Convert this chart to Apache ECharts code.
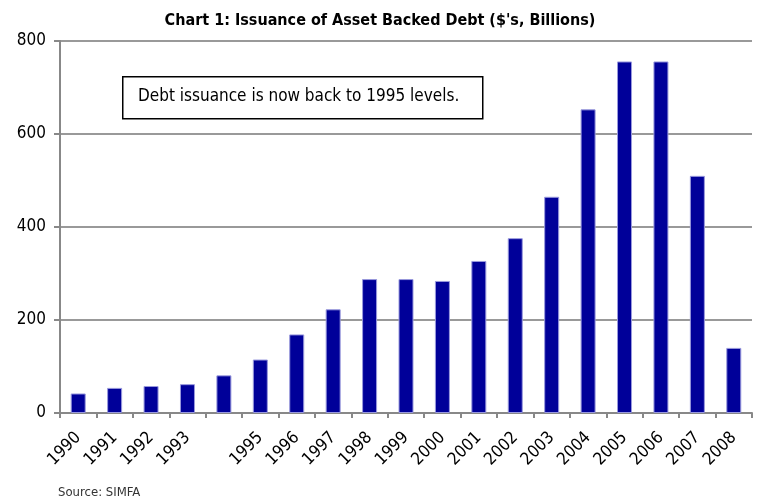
<!DOCTYPE html>
<html>
<head>
<meta charset="utf-8">
<script src="https://cdn.jsdelivr.net/npm/echarts@6/dist/echarts.min.js"></script>
<style>
  html, body { margin: 0; padding: 0; background: #fff; }
  #chart { width: 760px; height: 504px; }
</style>
</head>
<body>
<div id="chart"></div>
<script>
const years = ['1990', '1991', '1992', '1993', '1994', '1995', '1996', '1997', '1998', '1999',
  '2000', '2001', '2002', '2003', '2004', '2005', '2006', '2007', '2008'];
const issuance = [42, 54, 58, 62, 81, 115, 169, 223, 288, 288,
  284, 327, 376, 465, 653, 756, 756, 510, 140];
const hiddenYears = ['1994'];
const yTicks = [0, 200, 400, 600, 800];

const font = "'DejaVu Sans Condensed', 'Liberation Sans Narrow', 'Liberation Sans', sans-serif";

const myChart = echarts.init(document.getElementById('chart'));
myChart.setOption({
  animation: false,
  title: {
    text: "Chart 1: Issuance of Asset Backed Debt ($'s, Billions)",
    left: 'center',
    top: 8,
    textStyle: { fontFamily: font, fontSize: 16, fontWeight: 'bold', color: '#000' }
  },
  grid: { left: 60, right: 8, top: 41, bottom: 91 },
  xAxis: {
    type: 'category',
    data: years,
    axisLine: { lineStyle: { color: '#888', width: 2 } },
    axisTick: { show: true, length: 5, lineStyle: { color: '#888', width: 2 } },
    axisLabel: {
      rotate: 45,
      interval: 0,
      margin: 22,
      fontFamily: font,
      fontSize: 17,
      color: '#000',
      formatter: (v) => hiddenYears.includes(v) ? '' : v
    }
  },
  yAxis: {
    type: 'value',
    min: yTicks[0],
    max: yTicks[yTicks.length - 1],
    interval: 200,
    axisLine: { show: true, lineStyle: { color: '#888', width: 2 } },
    axisTick: { show: true, length: 6, lineStyle: { color: '#888', width: 2 } },
    splitLine: { lineStyle: { color: '#999', width: 2 } },
    axisLabel: { fontFamily: font, fontSize: 17, color: '#000', margin: 14 }
  },
  series: [{
    type: 'bar',
    data: issuance,
    barWidth: 15,
    itemStyle: { color: '#000099', borderColor: '#9999dd', borderWidth: 1 }
  }],
  graphic: [
    {
      type: 'rect',
      left: 122,
      top: 76,
      shape: { width: 360, height: 42 },
      style: { fill: '#fff', stroke: '#000', lineWidth: 1.5 },
      z: 10
    },
    {
      type: 'text',
      left: 138,
      top: 88,
      style: {
        text: 'Debt issuance is now back to 1995 levels.',
        font: '17px ' + font,
        fill: '#000'
      },
      z: 11
    },
    {
      type: 'text',
      left: 58,
      top: 486,
      style: { text: 'Source: SIMFA', font: '13px ' + font, fill: '#333' }
    }
  ]
});
</script>
</body>
</html>
